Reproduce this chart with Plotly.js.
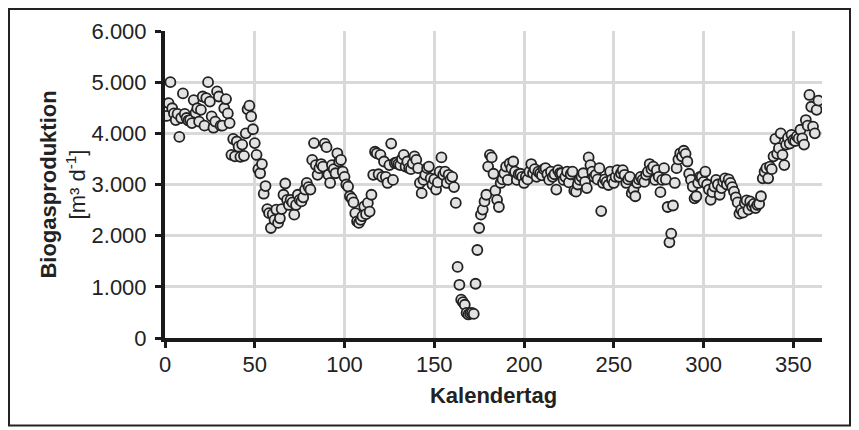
<!DOCTYPE html>
<html>
<head>
<meta charset="utf-8">
<script src="https://cdn.plot.ly/plotly-3.0.1.min.js"></script>
<style>
html,body{margin:0;padding:0;background:#fff;}
#chart{width:859px;height:430px;}
</style>
</head>
<body>
<div id="chart"></div>
<script>
// Kalendertag 1..364 and Biogasproduktion [m³/d]
var biogas = [
4340,4590,5000,4490,4390,4260,4380,3930,4300,4780,
4380,4300,4250,4260,4200,4650,4400,4490,4230,4460,
4720,4150,4690,5000,4620,4330,4110,4230,4820,4720,
4150,4150,4490,4670,4390,4200,3580,3890,3550,3840,
3740,3540,3780,3560,4000,4470,4540,4330,4080,3810,
3580,3300,3220,3400,2820,2970,2520,2440,2150,2420,
2310,2510,2250,2340,2520,2800,3020,2700,2600,2700,
2650,2410,2600,2800,2700,2670,2750,2900,3030,2950,
2900,3480,3810,3380,3190,3320,3400,3350,3800,3730,
3190,3030,3380,3300,3220,3610,3450,3480,3250,3150,
3000,2960,2770,2730,2650,2440,2280,2250,2310,2380,
2570,2420,2640,2470,2800,3190,3640,3610,3200,3580,
3150,3450,3150,3030,3380,3800,3090,3420,3430,3400,
3380,3500,3580,3350,3450,3320,3300,3410,3550,3480,
3320,3030,2830,3090,3190,3320,3350,3120,3000,3100,
2900,3040,3250,3530,3190,3250,3030,3190,3100,3150,
2950,2640,1390,1040,750,700,650,490,460,480,
490,470,1060,1720,2150,2410,2510,2670,2800,3350,
3580,3530,3210,2880,2700,2560,3030,3100,3220,3350,
3090,3410,3320,3450,3250,3090,3200,3210,3150,3030,
3150,3100,3250,3400,3220,3300,3150,3250,3220,3180,
3300,3320,3200,3090,3250,3150,3200,2900,3280,3220,
3220,3090,3150,3250,3040,3200,3250,2880,2860,3000,
3090,3150,3220,3050,2930,3530,3380,3250,3150,3190,
3100,3320,2480,3030,3100,3050,2990,3250,3100,3030,
3150,3280,3150,3220,3280,3190,3030,3100,3150,2830,
2900,2770,3030,3100,3150,3090,3050,3190,3250,3400,
3300,3350,3090,3280,3150,2850,3090,3320,3100,2560,
1870,2040,2590,3030,3320,3490,3610,3550,3660,3600,
3450,3210,3090,2960,2730,2770,3030,3150,3150,3050,
3250,3000,2900,2700,2850,2960,3090,3000,2800,2930,
3050,3120,3000,3100,3030,2950,2860,2750,2650,2430,
2510,2450,2640,2690,2510,2670,2580,2620,2540,2600,
2620,2770,3120,3250,3320,3120,3350,3300,3550,3890,
3600,3710,4000,3580,3380,3780,3910,3800,3970,3870,
3850,3940,3900,4070,3900,3780,4260,4150,4750,4520,
4130,4000,4460,4640
];
var tage = [];
for (var i = 0; i < biogas.length; i++) tage.push(i + 1);

var xTicks = [0,50,100,150,200,250,300,350];
var yTicks = [0,1000,2000,3000,4000,5000,6000];

var trace = {
  x: tage, y: biogas, type: 'scatter', mode: 'markers',
  marker: {size: 10, color: '#e2e2e2', line: {color: '#222222', width: 1.8}},
  hoverinfo: 'skip'
};

var font = {family: 'Liberation Sans, Arial, sans-serif', size: 22, color: '#222222'};

var layout = {
  width: 859, height: 430,
  margin: {l: 165, r: 37, t: 31, b: 92},
  paper_bgcolor: '#ffffff', plot_bgcolor: '#ffffff',
  separators: ',.',
  showlegend: false,
  font: font,
  xaxis: {
    range: [0, 366], tickvals: xTicks, ticktext: xTicks.map(String),
    showgrid: true, gridcolor: '#d9d9d9', gridwidth: 3,
    zeroline: false, showline: true, linecolor: '#1a1a1a', linewidth: 4,
    ticks: 'outside', ticklen: 6, tickwidth: 3, tickcolor: '#1a1a1a',
    tickfont: font, automargin: false, ticklabelstandoff: -2,
    title: {text: '<b>Kalendertag</b>', font: font, standoff: 12}
  },
  yaxis: {
    range: [0, 6000], tickvals: yTicks, tickformat: ',d',
    showgrid: true, gridcolor: '#d9d9d9', gridwidth: 3,
    zeroline: false, showline: true, linecolor: '#1a1a1a', linewidth: 4,
    ticks: 'outside', ticklen: 6, tickwidth: 3, tickcolor: '#1a1a1a',
    tickfont: font, automargin: false, ticklabelstandoff: 4,
    title: {text: '<b>Biogasproduktion</b><br>[m³ d<sup>-1</sup>]', font: font, standoff: 1}
  },
  shapes: [{
    type: 'rect', xref: 'paper', yref: 'paper',
    x0: (9 - 165) / 657, x1: (850 - 165) / 657,
    y0: (338.3 - 426) / 307.3, y1: (338.3 - 9) / 307.3,
    line: {color: '#222222', width: 2}, fillcolor: 'rgba(0,0,0,0)', layer: 'above'
  }]
};

Plotly.newPlot('chart', [trace], layout, {displayModeBar: false, staticPlot: true});
</script>
</body>
</html>
